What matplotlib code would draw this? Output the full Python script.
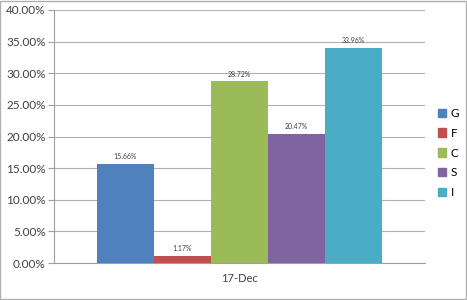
import matplotlib.pyplot as plt
import matplotlib.patches as mpatches
import numpy as np

category = '17-Dec'
series = ['G', 'F', 'C', 'S', 'I']
values = [15.66, 1.17, 28.72, 20.47, 33.96]
colors = ['#4F81BD', '#C0504D', '#9BBB59', '#8064A2', '#4BACC6']

plt.rcParams['font.family'] = ['Lato', 'DejaVu Sans']

fig = plt.figure(figsize=(4.67, 3.0), dpi=100)
ax = fig.add_axes([0.1156, 0.1233, 0.7944, 0.8434])

width = 0.154
x = (np.arange(len(series)) - 2) * width
bars = ax.bar(x, values, width, color=colors, zorder=3)
for b, v in zip(bars, values):
    ax.text(b.get_x() + b.get_width() / 2, v + 0.6, f'{v:.2f}%',
            ha='center', va='bottom', fontsize=5, color='#404040')

ax.set_xlim(-0.5, 0.5)
ax.set_ylim(0, 40)
yt = np.arange(0, 45, 5)
ax.set_yticks(yt, [f'{t:.2f}%' for t in yt])
ax.set_xticks([0], [category])
ax.tick_params(axis='x', length=0, labelsize=8, pad=7, colors='#404040')
ax.tick_params(axis='y', length=4, color='#A0A0A0', labelsize=8.5, colors='#404040', pad=2)
for lbl in ax.get_yticklabels():
    lbl.set_color('#404040')
ax.yaxis.grid(True, color='#B0B0B0', linewidth=0.8, zorder=0)
for s in ['top', 'right']:
    ax.spines[s].set_visible(False)
ax.spines['left'].set_color('#A0A0A0')
ax.spines['bottom'].set_color('#A0A0A0')

handles = [mpatches.Patch(color=c, label=s) for c, s in zip(colors, series)]
fig.legend(handles=handles, loc='upper left', bbox_to_anchor=(0.925, 0.66),
           frameon=False, fontsize=8.5, handlelength=0.7, handleheight=0.7,
           handletextpad=0.4, labelspacing=0.75, borderpad=0)

fig.patches.append(mpatches.Rectangle((0.001, 0.002), 0.997, 0.995, transform=fig.transFigure,
                                      fill=False, edgecolor='#B0B0B0', linewidth=1))

fig.savefig('out.png', dpi=100)
